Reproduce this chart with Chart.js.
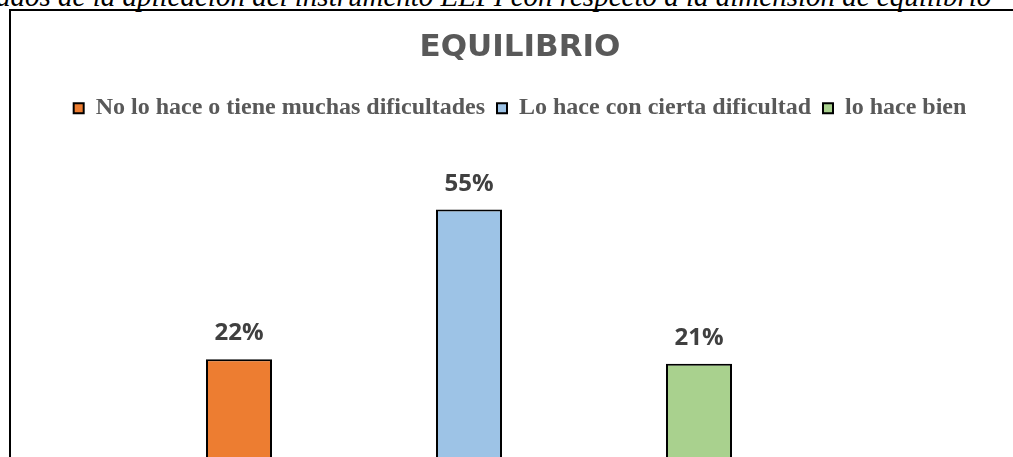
<!DOCTYPE html>
<html>
<head>
<meta charset="utf-8">
<script src="https://cdn.jsdelivr.net/npm/chart.js@4.4.0/dist/chart.umd.min.js"></script>
<style>
  html, body { margin: 0; padding: 0; background: #fff; width: 1013px; height: 457px; overflow: hidden; }
  #caption { position: absolute; left: -4px; top: -18px; font: italic 29px/29px "Liberation Serif", "Times New Roman", serif; white-space: nowrap; color: #000; }
  #frame { position: absolute; left: 9px; top: 9px; width: 1100px; height: 600px; border: 2px solid #000; }
  #myChart { position: absolute; left: 12px; top: 12px; }
</style>
</head>
<body>
<div id="caption">ados de la aplicación del instrumento EEPI con respecto a la dimensión de equilibrio</div>
<div id="frame"></div>
<canvas id="myChart" width="1016" height="447"></canvas>
<script>
var categories = ["No lo hace o tiene muchas dificultades", "Lo hace con cierta dificultad", "lo hace bien"];
var percentages = [22, 55, 21];
var colors = ['#ED7D31', '#9DC3E6', '#A9D18E'];

// one dataset per category so each gets its own legend entry
var datasets = categories.map(function (name, i) {
    return {
        label: name,
        data: categories.map(function (c, j) { return j === i ? percentages[i] : null; }),
        backgroundColor: colors[i],
        borderColor: '#000',
        borderWidth: 2,
        borderSkipped: false
    };
});

var valueLabels = {
    id: 'valueLabels',
    afterDatasetsDraw: function (chart) {
        var ctx = chart.ctx;
        ctx.save();
        ctx.font = 'bold 24px "Open Sans"';
        ctx.fillStyle = '#404040';
        ctx.textAlign = 'center';
        ctx.textBaseline = 'alphabetic';
        chart.data.datasets.forEach(function (ds, i) {
            chart.getDatasetMeta(i).data.forEach(function (bar, j) {
                if (ds.data[j] == null) return;
                ctx.fillText(ds.data[j] + '%', bar.x, bar.y - 19);
            });
        });
        ctx.restore();
    }
};

var ctx = document.getElementById('myChart').getContext('2d');
var chart = new Chart(ctx, {
    type: 'bar',
    data: {
        labels: categories,
        datasets: datasets
    },
    options: {
        responsive: false,
        animation: false,
        devicePixelRatio: 1,
        layout: { padding: 0 },
        datasets: {
            bar: { grouped: false, categoryPercentage: 1, barPercentage: 0.287 }
        },
        scales: {
            x: { display: false },
            y: {
                min: 0,
                max: 72.5,
                position: 'left',
                ticks: { display: false },
                grid: { display: false },
                border: { display: false },
                afterFit: function (s) { s.width = 112; }
            },
            yRight: {
                type: 'linear',
                position: 'right',
                ticks: { display: false },
                grid: { display: false },
                border: { display: false },
                afterFit: function (s) { s.width = 214; }
            }
        },
        plugins: {
            title: {
                display: true,
                text: 'EQUILIBRIO',
                color: '#595959',
                font: { family: '"DejaVu Sans"', size: 31, weight: 'bold', lineHeight: 1.2 },
                padding: { top: 17, bottom: 18 }
            },
            legend: {
                position: 'top',
                labels: {
                    color: '#595959',
                    font: { family: '"Liberation Serif"', size: 24, weight: 'bold' },
                    boxWidth: 10,
                    boxHeight: 10,
                    padding: 12
                }
            },
            tooltip: { enabled: false }
        }
    },
    plugins: [valueLabels]
});
</script>
</body>
</html>
